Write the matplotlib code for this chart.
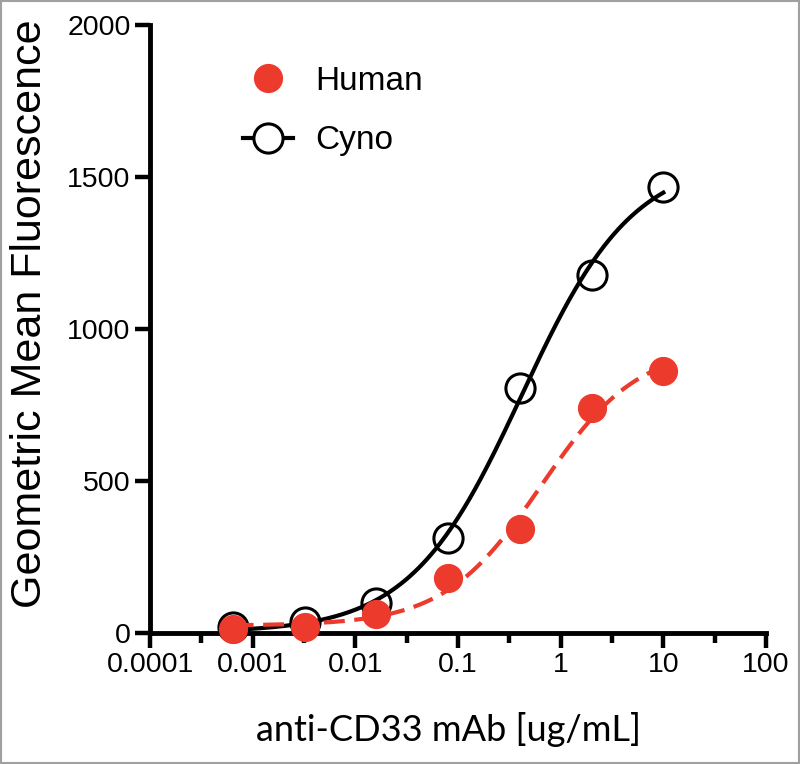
import numpy as np
import matplotlib
matplotlib.use("Agg")
from matplotlib import pyplot as plt
from matplotlib.lines import Line2D
from matplotlib.patches import Rectangle


#getting data

conc = [0.00064, 0.0032, 0.016, 0.08, 0.4, 2.0, 10.0]   # ug/mL, 5-fold dilutions
human = [13, 20, 62, 181, 342, 740, 862]
cyno = [20, 36, 99, 312, 806, 1178, 1467]

red = '#EC3A2C'


#four parameter logistic fit (grid over EC50 / hill, linear solve for bottom / top)

def fit_4pl(x, y):
    lx = np.log10(np.array(x, dtype=float))
    y = np.array(y, dtype=float)
    le = np.arange(-3.0, 2.0, 0.01)[:, None, None]
    hs = np.arange(0.3, 2.5, 0.01)[None, :, None]
    f = 1.0 / (1.0 + 10 ** ((le - lx) * hs))
    a = 1.0 - f
    saa = (a * a).sum(-1)
    sab = (a * f).sum(-1)
    sbb = (f * f).sum(-1)
    say = (a * y).sum(-1)
    sby = (f * y).sum(-1)
    det = saa * sbb - sab ** 2
    bot = (sbb * say - sab * sby) / det
    top = (saa * sby - sab * say) / det
    sse = ((y - bot[..., None] * a - top[..., None] * f) ** 2).sum(-1)
    i, j = np.unravel_index(np.argmin(sse), sse.shape)
    return bot[i, j], top[i, j], le[i, 0, 0], hs[0, j, 0]


def curve(x, params):
    bot, top, le, h = params
    xs = np.logspace(np.log10(min(x)), np.log10(max(x)), 300)
    return xs, bot + (top - bot) / (1 + 10 ** ((le - np.log10(xs)) * h))


#drawing

fig = plt.figure(figsize=(8, 7.64), dpi=100)
ax = fig.add_axes([0.1875, 0.1714, 0.77, 0.7956])

xs, ys = curve(conc, fit_4pl(conc, cyno))
ax.plot(xs, ys, color='black', lw=3, zorder=5, clip_on=False)
ax.plot(conc, cyno, 'o', ms=21, mfc='none', mec='black', mew=2.2, zorder=6, clip_on=False)

xs, ys = curve(conc, fit_4pl(conc, human))
ax.plot(xs, ys, color=red, lw=3, ls=(0, (5, 2.3)), zorder=7, clip_on=False)
ax.plot(conc, human, 'o', ms=20, color=red, mec=red, zorder=8, clip_on=False)

ax.set_xscale('log')
ax.set_xlim(0.0001, 100)
ax.set_ylim(0, 2000)

ax.set_xticks([0.0001, 0.001, 0.01, 0.1, 1, 10, 100])
ax.set_xticklabels(['0.0001', '0.001', '0.01', '0.1', '1', '10', '100'])
ax.set_xticks([10 ** (k + 0.5) for k in range(-4, 2)], minor=True)
ax.set_xticklabels([], minor=True)
ax.set_yticks([0, 500, 1000, 1500, 2000])
ax.set_yticklabels(['0', '500', '1000', '1500', '2000'])

for s in ['top', 'right']:
    ax.spines[s].set_visible(False)
for s in ['left', 'bottom']:
    ax.spines[s].set_linewidth(3.5)
    ax.spines[s].set_capstyle('projecting')

ax.tick_params(axis='both', which='major', length=11, width=3.2, labelsize=20.5,
               pad=3, labelfontfamily='Liberation Sans')
ax.tick_params(axis='x', which='minor', length=7, width=3.2)
ax.tick_params(axis='y', which='minor', length=0)

ax.set_ylabel('Geometric Mean Fluorescence', fontsize=31, family='Liberation Sans')
ax.yaxis.set_label_coords(-0.163, 0.525)
ax.set_xlabel('anti-CD33 mAb [ug/mL]', fontsize=26, family='Lato')
ax.xaxis.set_label_coords(0.484, -0.130)

handles = [
    Line2D([], [], ls='none', marker='o', ms=20, color=red, mec=red),
    Line2D([], [], color='black', lw=3, marker='o', ms=21, mfc='white', mec='black', mew=2.2),
]
ax.legend(handles, ['Human', 'Cyno'], loc='upper left', bbox_to_anchor=(0.124, 0.961),
          frameon=False, prop={'family': 'Liberation Sans', 'size': 24},
          handlelength=1.5, handletextpad=0.66, labelspacing=0.86, borderpad=0)

#grey frame round the picture
fig.patches.append(Rectangle((0.001, 0.001), 0.998, 0.998, transform=fig.transFigure,
                             fill=False, edgecolor='#a0a0a0', lw=1.5))

fig.savefig('out.png', dpi=100)
plt.close()
